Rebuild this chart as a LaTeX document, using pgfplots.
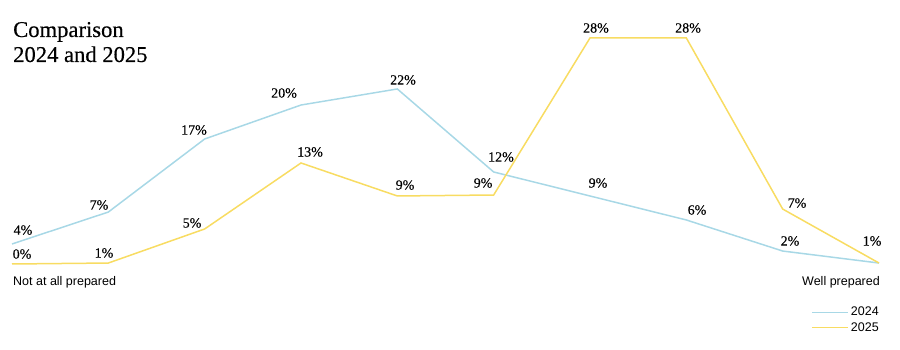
\documentclass[border=0pt]{standalone}
\usepackage{fontspec}
\setmainfont{Liberation Serif}
\newfontfamily\labfont[FakeBold=0.35]{Liberation Serif}
\newfontfamily\sansfont{Liberation Sans}
\usepackage{pgfplots}
\pgfplotsset{compat=1.18}
\definecolor{c24}{HTML}{A8D8E6}
\definecolor{c25}{HTML}{F8DC62}
\begin{document}
\begin{tikzpicture}
\path[use as bounding box] (0,0) rectangle (900bp,350bp);
\node[anchor=base west,inner sep=0pt,font=\labfont\fontsize{22.6bp}{25bp}\selectfont] at (13bp,313bp) {Comparison};
\node[anchor=base west,inner sep=0pt,font=\labfont\fontsize{22.6bp}{25bp}\selectfont] at (13bp,288bp) {2024 and 2025};
\node[anchor=base west,inner sep=0pt,font=\sansfont\fontsize{12.5bp}{14bp}\selectfont] at (13bp,64bp) {Not at all prepared};
\node[anchor=base east,inner sep=0pt,font=\sansfont\fontsize{12.5bp}{14bp}\selectfont] at (880bp,64bp) {Well prepared};
\begin{axis}[
  at={(12bp,86bp)}, anchor=south west,
  scale only axis, width=867bp, height=227bp,
  xmin=0, xmax=9, ymin=0, ymax=28,
  hide axis, clip=false,
  legend style={draw=none, fill=none, at={(1,0)}, anchor=north east,
    xshift=2bp, yshift=-41bp, row sep=1bp, inner sep=0pt,
    font=\sansfont\fontsize{12.5bp}{14bp}\selectfont,
    nodes={inner sep=2bp}},
  legend cell align=left,
  legend image code/.code={\draw[#1, line width=1.6bp] (0bp,0bp) -- (36bp,0bp);},
]
\addplot[c24, line width=1.5bp] coordinates {
 (0,2.47) (1,6.41) (2,15.42) (3,19.61) (4,21.59) (5,11.35) (6,8.39) (7,5.43) (8,1.60) (9,0.12)};
\addlegendentry{2024}
\addplot[c25, line width=1.5bp] coordinates {
 (0,0) (1,0.12) (2,4.32) (3,12.46) (4,8.39) (5,8.51) (6,27.88) (7,27.88) (8,6.78) (9,0.12)};
\addlegendentry{2025}
\addplot[draw=none, forget plot, point meta=explicit symbolic,
  nodes near coords, nodes near coords style={anchor=center, inner sep=0pt, font=\labfont\fontsize{14bp}{15bp}\selectfont, text=black}]
 coordinates {
 (0.114,4.19) [4\%] (0.903,7.28) [7\%] (1.889,16.53) [17\%] (2.824,21.09) [20\%]
 (4.059,22.70) [22\%] (5.076,13.20) [12\%] (6.083,9.99) [9\%] (7.111,6.66) [6\%]
 (8.076,2.84) [2\%]
 (0.104,1.23) [0\%] (0.955,1.36) [1\%] (1.869,5.06) [5\%] (3.094,13.82) [13\%]
 (4.080,9.74) [9\%] (4.890,9.99) [9\%] (6.062,29.11) [28\%] (7.018,29.11) [28\%]
 (8.149,7.52) [7\%] (8.928,2.84) [1\%]};
\end{axis}
\end{tikzpicture}
\end{document}
